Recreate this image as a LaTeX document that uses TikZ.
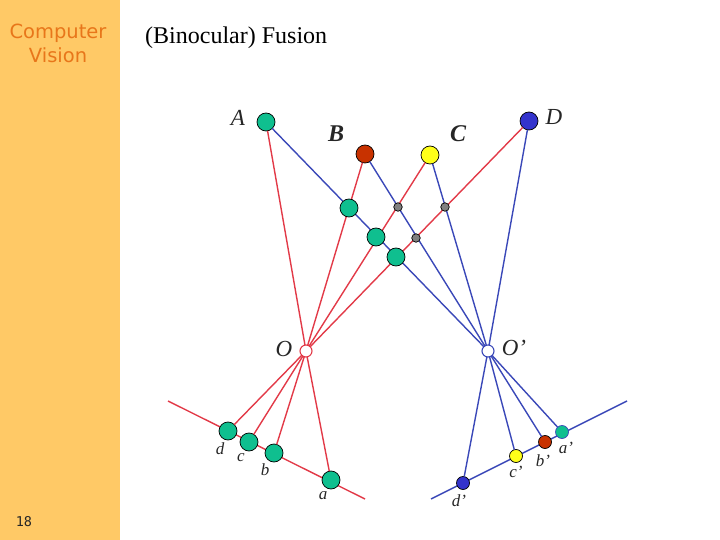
\documentclass[tikz,border=0pt]{standalone}
\usepackage{fontspec}
\setmainfont{Liberation Serif}
\newfontfamily\sidefont{DejaVu Sans}
\newfontfamily\numfont{DejaVu Sans Mono}
\definecolor{sidebar}{HTML}{FFC966}
\definecolor{sidetext}{HTML}{E8761A}
\definecolor{dotgreen}{HTML}{0FBF8F}
\definecolor{dotred}{HTML}{C83200}
\definecolor{dotyellow}{HTML}{FFFF19}
\definecolor{dotblue}{HTML}{3333CC}
\definecolor{dotgray}{HTML}{808080}
\definecolor{linered}{HTML}{E23A48}
\definecolor{lineblue}{HTML}{3A48B8}
\tikzset{
  dot/.style={circle,draw=black,line width=0.7pt,inner sep=0pt,outer sep=0pt},
  big/.style={dot,minimum size=18pt},
  small/.style={dot,minimum size=13pt},
  cross/.style={dot,minimum size=8.5pt,fill=dotgray},
  hollow/.style={circle,fill=white,inner sep=0pt,outer sep=0pt,minimum size=12pt,line width=1.1pt},
  redray/.style={linered,line width=1.4pt},
  blueray/.style={lineblue,line width=1.4pt},
  lab/.style={font=\itshape\fontsize{17}{17}\selectfont,inner sep=0pt,text=black!85},
  blab/.style={font=\bfseries\itshape\fontsize{24}{24}\selectfont,inner sep=0pt,text=black!85},
  big lab/.style={font=\itshape\fontsize{23}{23}\selectfont,inner sep=0pt,text=black!85},
  side/.style={font=\sidefont\fontsize{19.5}{24}\selectfont,text=sidetext,align=center,inner sep=0pt}
}
\begin{document}
\begin{tikzpicture}[x=1pt,y=-1pt]
\useasboundingbox (0,0) rectangle (720,540);
\fill[sidebar] (0,0) rectangle (120,540);
\node[side] (sidetitle) at (58,43) {Computer\\Vision};
\node[font=\numfont\fontsize{13.5}{16}\selectfont,text=black!85,inner sep=0pt] (pagenum) at (24,522) {18};
\node[inner sep=0pt,anchor=west,font=\fontsize{24}{26}\selectfont] (title) at (145,38) {(Binocular) Fusion};
% image planes
\coordinate (pl1) at (168,401);
\coordinate (pl2) at (365,499);
\coordinate (pr1) at (431,499);
\coordinate (pr2) at (627,401);
\draw[redray] (pl1) -- (pl2);
\draw[blueray] (pr1) -- (pr2);
% endpoints
\node[big,fill=dotgreen] (A) at (266,122) {};
\node[big,fill=dotred] (B) at (365,154) {};
\node[big,fill=dotyellow] (C) at (430,155) {};
\node[big,fill=dotblue] (D) at (529,121) {};
\node[big,fill=dotgreen] (d) at (228,431) {};
\node[big,fill=dotgreen] (c) at (249,442) {};
\node[big,fill=dotgreen] (b) at (274,453) {};
\node[big,fill=dotgreen] (a) at (331,480) {};
\node[small,fill=dotgreen,draw=lineblue] (a') at (562,432) {};
\node[small,fill=dotred] (b') at (545,442) {};
\node[small,fill=dotyellow] (c') at (516,456) {};
\node[small,fill=dotblue] (d') at (463,483) {};
\node[hollow] (O) at (306,351) {};
\node[hollow] (O') at (488,351) {};
% rays
\foreach \s/\t in {A/a,B/b,C/c,D/d}{
  \draw[redray] (\s) -- (O.center);
  \draw[redray] (O.center) -- (\t);
}
\foreach \s/\t in {A/a',B/b',C/c',D/d'}{
  \draw[blueray] (\s) -- (O'.center);
  \draw[blueray] (O'.center) -- (\t);
}
% optical centres on top
\node[hollow,draw=linered] (Oc) at (O) {};
\node[hollow,draw=lineblue] (Opc) at (O') {};
% intersections
\node[big,fill=dotgreen] (g1) at (349,208) {};
\node[big,fill=dotgreen] (g2) at (376,237) {};
\node[big,fill=dotgreen] (g3) at (396,257) {};
\node[cross] (x1) at (398,207) {};
\node[cross] (x2) at (445,207) {};
\node[cross] (x3) at (416,238) {};
% labels
\node[big lab] (lA) at (238,118) {A};
\node[blab] (lB) at (336,134) {B};
\node[blab] (lC) at (458,134) {C};
\node[big lab] (lD) at (554,117) {D};
\node[big lab] (lO) at (284,349) {O};
\node[big lab] (lOp) at (514,348) {O’};
\node[lab] (ld) at (220,449) {d};
\node[lab] (lc) at (241,458) {c};
\node[lab] (lb) at (265,470) {b};
\node[lab] (la) at (323,496) {a};
\node[lab] (lap) at (566,448) {a’};
\node[lab] (lbp) at (543,461) {b’};
\node[lab] (lcp) at (516,472) {c’};
\node[lab] (ldp) at (459,501) {d’};
\end{tikzpicture}
\end{document}
